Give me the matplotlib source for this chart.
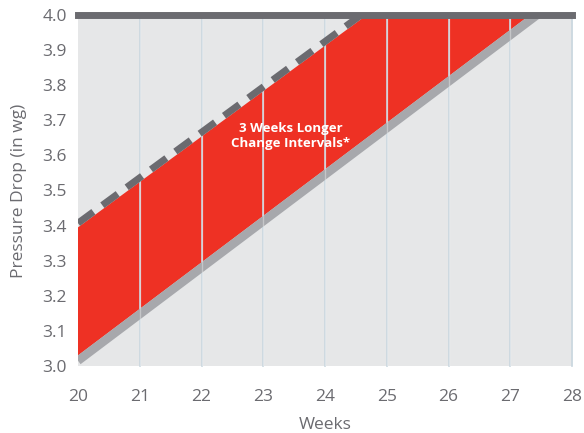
import matplotlib
matplotlib.use("Agg")
import matplotlib.pyplot as plt
import numpy as np

weeks = [20, 28]
upper = [3.395, 4.43]      # dashed line (standard filter)
lower = [3.00, 4.06]       # solid gray line (longer-life filter)
xticks = [20, 21, 22, 23, 24, 25, 26, 27, 28]
yticks = [3.0, 3.1, 3.2, 3.3, 3.4, 3.5, 3.6, 3.7, 3.8, 3.9, 4.0]
limit = 4.0
label_text = "3 Weeks Longer\nChange Intervals*"

RED = "#ee3124"
DARK = "#6b6b70"
LGRAY = "#a7a8ac"
BG = "#e6e7e8"
GRID = "#c6d4dd"
TXT = "#6b6b70"

plt.rcParams['font.family'] = ['Open Sans', 'DejaVu Sans']

fig = plt.figure(figsize=(5.84, 4.33), dpi=100)
ax = fig.add_axes([78/584, 1-366/433, (572-78)/584, (366-15)/433])
ax.set_facecolor(BG)

x = np.array(weeks, dtype=float)
up = np.array(upper)
lo = np.array(lower)
lo_shift = lo + 0.03

ax.fill_between(x, lo_shift, up, color=RED, zorder=2, linewidth=0)
ax.plot(x, lo + 0.015, color=LGRAY, linewidth=6.2, zorder=3, solid_capstyle='butt')

for t in xticks[1:]:
    ax.axvline(t, color=GRID, linewidth=1.2, zorder=2.5, clip_on=False)
    ax.axvline(t, color="white", linewidth=1.0, alpha=0.35, zorder=3.5)

ax.plot(x, up + 0.012, color=DARK, linewidth=5.0, dashes=(2.75, 1.6), zorder=4,
        dash_capstyle='butt')

ax.axhline(limit, color=DARK, linewidth=5, zorder=5, clip_on=False)

ax.text(23.45, 3.655, label_text, color="white", fontsize=9.5, fontweight='bold',
        ha='center', va='center', zorder=6, linespacing=1.25)

ax.set_xlim(20, 28)
ax.set_ylim(3.0, 4.0)
ax.set_xticks(xticks)
ax.set_yticks(yticks)
ax.set_xticklabels([str(t) for t in xticks])
ax.set_yticklabels([f"{t:.1f}" for t in yticks])
ax.tick_params(length=0, labelsize=12.5, colors=TXT, pad=8)
ax.tick_params(axis='x', pad=16.5)
for s in ax.spines.values():
    s.set_visible(False)

ax.set_xlabel("Weeks", fontsize=12.5, color=TXT, labelpad=9)
ax.set_ylabel("Pressure Drop (in wg)", fontsize=12.5, color=TXT, labelpad=11)

fig.savefig("out.png", dpi=100)
